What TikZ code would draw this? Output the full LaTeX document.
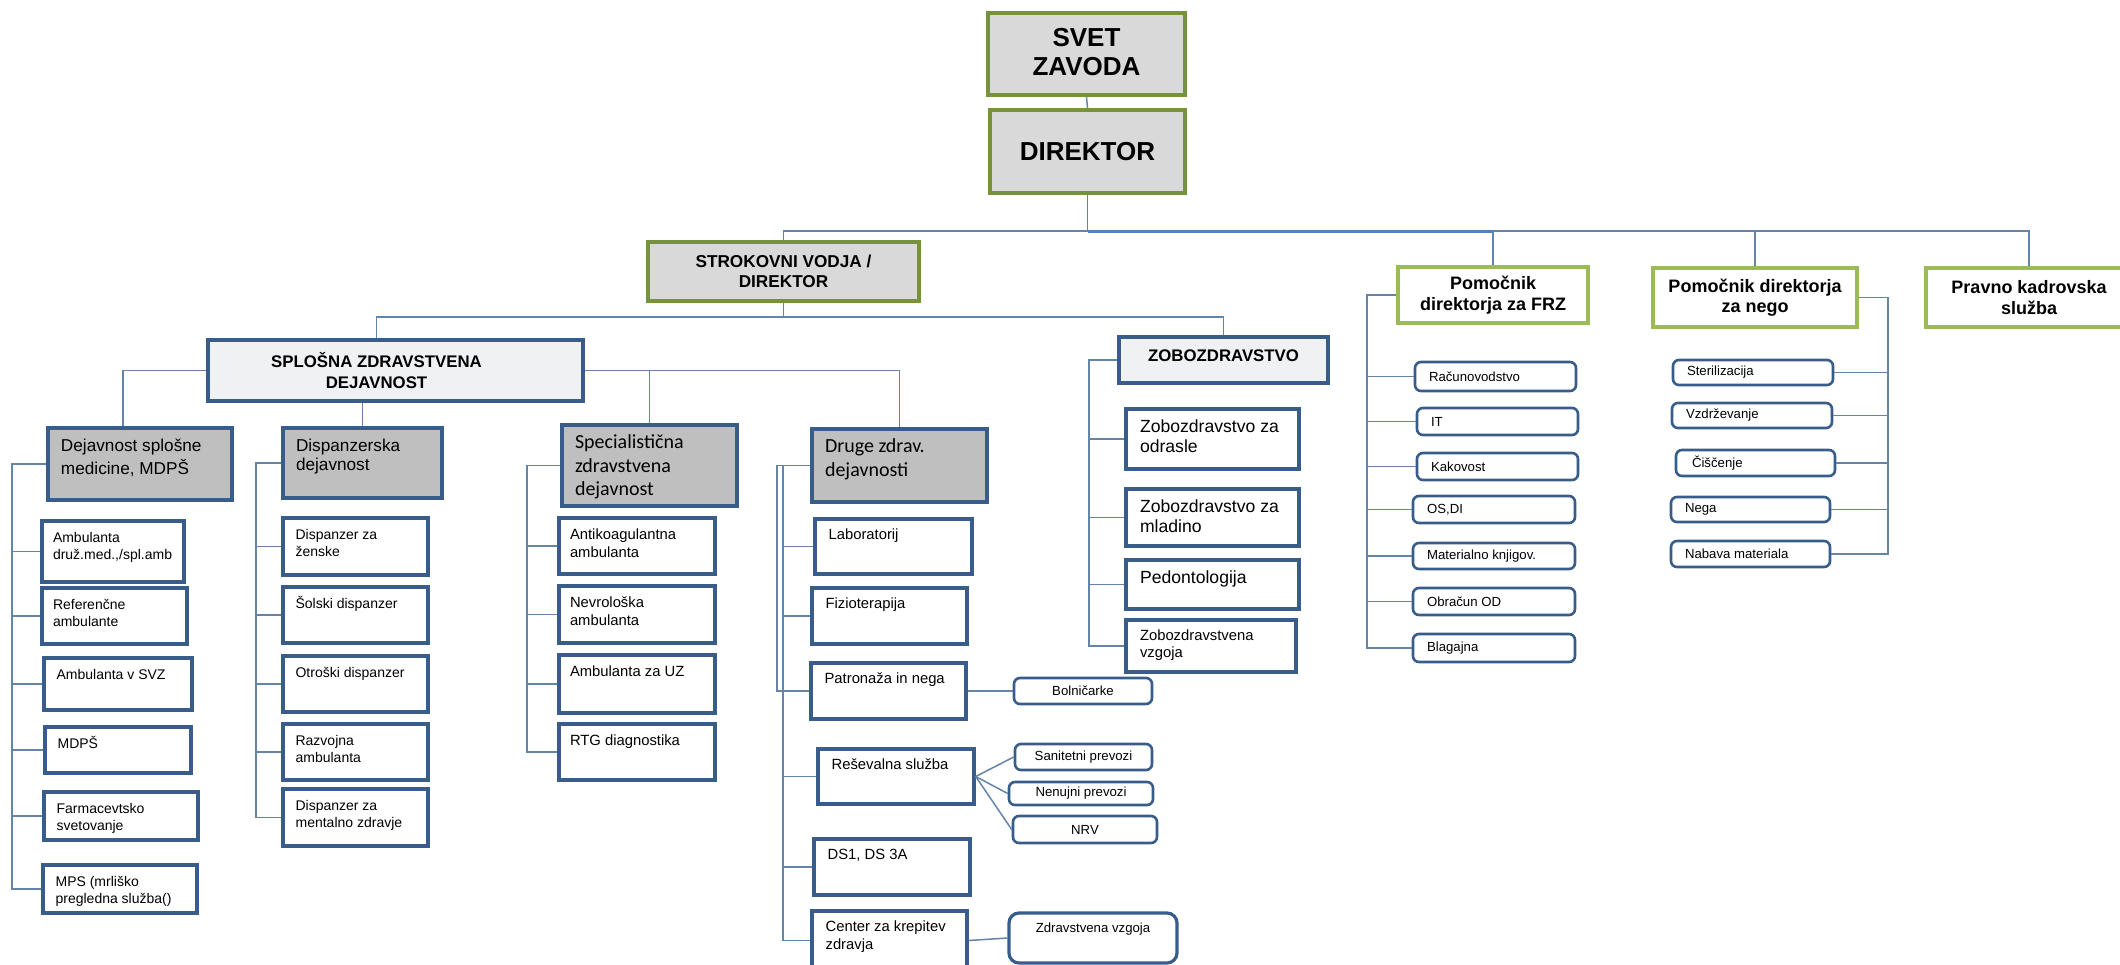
\documentclass[tikz,border=0pt]{standalone}
\usepackage{fontspec}
\setmainfont{Liberation Sans}
\newfontfamily\calfont{Carlito}
\usetikzlibrary{calc}
\definecolor{gdark}{HTML}{76923C}
\definecolor{glight}{HTML}{9BBB59}
\definecolor{bdark}{HTML}{385D8A}
\definecolor{greyA}{HTML}{D9D9D9}
\definecolor{greyB}{HTML}{BFBFBF}
\definecolor{greyL}{HTML}{F0F1F3}
\definecolor{cline}{HTML}{6484AA}
\definecolor{cblue}{HTML}{4F81BD}
\newlength\tpx \newlength\tpy
\setlength\tpx{6pt}\setlength\tpy{4.6pt}
\newcommand\ftSV{\fontsize{13}{14.5}\selectfont\bfseries}
\newcommand\ftST{\fontsize{8.6}{10}\selectfont\bfseries}
\newcommand\ftPO{\fontsize{9}{10.2}\selectfont\bfseries}
\newcommand\ftSP{\fontsize{8.4}{10.8}\selectfont\bfseries}
\newcommand\ftDJ{\fontsize{8.6}{9.7}\selectfont}
\newcommand\ftCA{\calfont\fontsize{10}{11.7}\selectfont}
\newcommand\ftL{\fontsize{7}{8.7}\selectfont}
\newcommand\ftLb{\fontsize{7.4}{8.9}\selectfont}
\newcommand\ftZ{\fontsize{8.8}{10}\selectfont}
\newcommand\ftR{\fontsize{6.6}{8}\selectfont}
% [opts]{style}{name}{x1}{y1}{x2}{y2}{vpos}{text}
\newcommand\obox[9][]{%
  \node[#2, inner sep=0pt, minimum width={(#6-#4)*0.5pt}, minimum height={(#7-#5)*0.5pt}, #1]
    (#3) at ({(#4+#6)/2},{(#5+#7)/2})
    {\parbox[c][\dimexpr 1pt*(#7-#5)/2-2\tpy\relax][#8]{\dimexpr 1pt*(#6-#4)/2-2\tpx\relax}{\raggedright #9}};}
\tikzset{
  topbox/.style={draw=gdark, line width=2.2pt, fill=greyA},
  strobox/.style={draw=gdark, line width=1.6pt, fill=greyA},
  pombox/.style={draw=glight, line width=2pt, fill=white},
  headL/.style={draw=bdark, line width=2.2pt, fill=greyL},
  headG/.style={draw=bdark, line width=2pt, fill=greyB},
  leaf/.style={draw=bdark, line width=1.7pt, fill=white},
  rleaf/.style={draw=bdark, line width=1.3pt, fill=white, rounded corners=3pt},
  conn/.style={draw=cline, line width=0.75pt},
  thickconn/.style={draw=cblue, line width=1.5pt},
}
\begin{document}
\begin{tikzpicture}[x=0.5pt,y=-0.5pt]
\fill[white] (0,0) rectangle (2120,964);
\clip (0,0) rectangle (2120,964);
% ---- top level
\setlength\tpx{4pt}\setlength\tpy{3pt}
\obox[font=\ftSV]{topbox}{svet}{988}{13}{1185}{95}{c}{\centering SVET\\ZAVODA\\[2pt]}
\obox[font=\ftSV]{topbox}{dir}{990}{110}{1185}{193}{c}{\centering DIREKTOR}
\obox[font=\ftST]{strobox}{stro}{648}{242}{919}{301}{c}{\centering STROKOVNI VODJA /\\DIREKTOR}
\obox[font=\ftPO]{pombox}{frz}{1398}{267}{1588}{323}{c}{\centering Pomočnik\\direktorja za FRZ}
\obox[font=\ftPO]{pombox}{nego}{1653}{268}{1857}{327}{c}{\centering Pomočnik direktorja\\za nego}
\obox[font=\ftPO]{pombox}{pravno}{1926}{268}{2132}{327}{c}{\centering Pravno kadrovska\\služba}
\obox[font=\ftSP]{headL}{spl}{208}{340}{583}{401}{c}{\centering SPLOŠNA ZDRAVSTVENA\rule{19pt}{0pt}\\DEJAVNOST\rule{19pt}{0pt}}
\setlength\tpy{4.5pt}
\obox[font=\ftSP]{headL}{zobo}{1119}{337}{1328}{383}{t}{\centering\strut ZOBOZDRAVSTVO}
% ---- second level headings
\setlength\tpx{6.5pt}\setlength\tpy{4.8pt}
\obox[font=\ftDJ]{headG}{dej}{48}{428}{232}{500}{t}{\strut Dejavnost splošne\\medicine, MDPŠ}
\obox[font=\ftDJ]{headG}{disp}{283}{428}{442}{498}{t}{\strut Dispanzerska\\dejavnost}
\setlength\tpy{3.8pt}
\obox[font=\ftCA]{headG}{spec}{562}{425}{737}{506}{t}{\strut Specialistična\\zdravstvena\\dejavnost}
\obox[font=\ftCA]{headG}{druge}{812}{429}{987}{502}{t}{\strut Druge zdrav.\\dejavnosti}
% ---- leaves: Dejavnost splosne medicine
\setlength\tpx{5.5pt}\setlength\tpy{4.6pt}
\obox[font=\ftL]{leaf}{a1}{42}{521}{184}{582}{t}{\strut Ambulanta\\druž.med.,/spl.amb}
\obox[font=\ftL]{leaf}{a2}{42}{588}{187}{644}{t}{\strut Referenčne\\ambulante}
\setlength\tpx{6.3pt}
\obox[font=\ftL]{leaf}{a3}{44}{658}{192}{710}{t}{\strut Ambulanta v SVZ}
\obox[font=\ftL]{leaf}{a4}{45}{727}{191}{773}{t}{\strut MDPŠ}
\obox[font=\ftL]{leaf}{a5}{44}{792}{198}{840}{t}{\strut Farmacevtsko\\svetovanje}
\obox[font=\ftL]{leaf}{a6}{43}{865}{197}{913}{t}{\strut MPS (mrliško\\pregledna služba()}
% ---- Dispanzerska
\obox[font=\ftL]{leaf}{b1}{283}{518}{428}{575}{t}{\strut Dispanzer za\\ženske}
\obox[font=\ftL]{leaf}{b2}{283}{587}{428}{643}{t}{\strut Šolski dispanzer}
\obox[font=\ftL]{leaf}{b3}{283}{656}{428}{712}{t}{\strut Otroški dispanzer}
\obox[font=\ftL]{leaf}{b4}{283}{724}{428}{780}{t}{\strut Razvojna\\ambulanta}
\obox[font=\ftL]{leaf}{b5}{283}{789}{428}{846}{t}{\strut Dispanzer za\\mentalno zdravje}
% ---- Specialisticna
\setlength\tpx{5.5pt}
\obox[font=\ftLb]{leaf}{c1}{559}{518}{715}{574}{t}{\strut Antikoagulantna\\ambulanta}
\obox[font=\ftLb]{leaf}{c2}{559}{586}{715}{643}{t}{\strut Nevrološka\\ambulanta}
\obox[font=\ftLb]{leaf}{c3}{559}{655}{715}{713}{t}{\strut Ambulanta za UZ}
\obox[font=\ftLb]{leaf}{c4}{559}{724}{715}{780}{t}{\strut RTG diagnostika}
% ---- Druge
\setlength\tpx{6.8pt}\setlength\tpy{4.2pt}
\obox[font=\ftLb]{leaf}{d1}{815}{519}{972}{574}{t}{\strut Laboratorij}
\obox[font=\ftLb]{leaf}{d2}{812}{588}{967}{644}{t}{\strut Fizioterapija}
\obox[font=\ftLb]{leaf}{d3}{811}{663}{966}{719}{t}{\strut Patronaža in nega}
\obox[font=\ftLb]{leaf}{d4}{818}{749}{974}{804}{t}{\strut Reševalna služba}
\obox[font=\ftLb]{leaf}{d5}{814}{839}{970}{895}{t}{\strut DS1, DS 3A}
\obox[font=\ftLb]{leaf}{d6}{812}{911}{967}{970}{t}{\strut Center za krepitev\\zdravja}
% ---- Druge sub-items
\setlength\tpx{3pt}\setlength\tpy{0pt}
\obox[font=\ftR]{rleaf}{s1}{1014}{678}{1152}{704}{c}{\centering Bolničarke}
\obox[font=\ftR]{rleaf}{s2}{1015}{744}{1152}{770}{c}{\centering Sanitetni prevozi}
\obox[font=\ftR]{rleaf}{s3}{1009}{782}{1153}{805}{c}{\centering Nenujni prevozi}
\obox[font=\ftR]{rleaf}{s4}{1013}{816}{1157}{843}{c}{\centering NRV}
\setlength\tpy{4pt}
\obox[font=\ftR, rounded corners=5pt, line width=1.6pt]{rleaf}{s5}{1009}{913}{1177}{963}{t}{\centering\strut Zdravstvena vzgoja}
% ---- Zobozdravstvo
\setlength\tpx{7pt}\setlength\tpy{4.8pt}
\obox[font=\ftZ]{leaf}{z1}{1126}{409}{1299}{469}{t}{\strut Zobozdravstvo za\\odrasle}
\obox[font=\ftZ]{leaf}{z2}{1126}{489}{1299}{546}{t}{\strut Zobozdravstvo za\\mladino}
\obox[font=\ftZ]{leaf}{z3}{1126}{560}{1299}{609}{t}{\strut Pedontologija}
\setlength\tpy{3.8pt}
\obox[font=\ftLb]{leaf}{z4}{1126}{620}{1296}{672}{t}{\strut Zobozdravstvena\\vzgoja}
% ---- FRZ
\setlength\tpx{7pt}\setlength\tpy{0pt}
\obox[font=\ftR]{rleaf}{r1}{1415}{362}{1576}{391}{c}{Računovodstvo}
\obox[font=\ftR]{rleaf}{r2}{1417}{408}{1578}{435}{c}{IT}
\obox[font=\ftR]{rleaf}{r3}{1417}{453}{1578}{480}{c}{Kakovost}
\obox[font=\ftR]{rleaf}{r4}{1413}{496}{1575}{523}{c}{OS,DI}
\obox[font=\ftR]{rleaf}{r5}{1413}{543}{1575}{569}{c}{Materialno knjigov.}
\obox[font=\ftR]{rleaf}{r6}{1413}{588}{1575}{615}{c}{Obračun OD}
\obox[font=\ftR]{rleaf}{r7}{1413}{634}{1575}{662}{c}{Blagajna}
% ---- Nega
\obox[font=\ftR]{rleaf}{n1}{1673}{360}{1833}{385}{c}{Sterilizacija}
\obox[font=\ftR]{rleaf}{n2}{1672}{403}{1832}{428}{c}{Vzdrževanje}
\obox[font=\ftR]{rleaf}{n3}{1676}{450}{1835}{476}{c}{\hspace*{1pt}Čiščenje}
\obox[font=\ftR]{rleaf}{n4}{1671}{497}{1830}{522}{c}{Nega}
\obox[font=\ftR]{rleaf}{n5}{1671}{541}{1830}{567}{c}{Nabava materiala}
% ---- helper coordinates
\coordinate (ybusA) at (0,231);
\coordinate (ybusB) at (0,317);
\coordinate (xa) at (12,0);
\coordinate (xb) at (256,0);
\coordinate (xc) at (527,0);
\coordinate (xd1) at (777,0);
\coordinate (xd2) at (783,0);
\coordinate (xz) at (1089,0);
\coordinate (xf) at (1367,0);
\coordinate (xn) at (1888,0);
% ---- connectors top
\draw[conn] (svet.south) -- (dir.north);
\draw[conn] (dir.south) -- (dir.south |- ybusA);
\draw[conn] (dir.south |- ybusA) -| (stro.north);
\draw[conn] (frz.north |- ybusA) -| (pravno.north);
\draw[conn] (frz.north |- ybusA) -- (frz.north);
\draw[conn] (nego.north) -- (nego.north |- ybusA);
\draw[thickconn] (dir.south |- ybusA) -- (frz.north |- ybusA);
\draw[conn] (stro.south) -- (stro.south |- ybusB);
\draw[conn] ([xshift=-9.5pt]spl.north) |- (zobo.north |- ybusB) -- (zobo.north);
\draw[conn] (spl.west) -| ([xshift=-8.5pt]dej.north);
\draw[conn] (spl.south -| disp.north) -- (disp.north);
\draw[conn] (spl.east) -| (druge.north);
\draw[conn] (spl.east -| spec.north) -- (spec.north);
% ---- column buses
\foreach \c in {a1,a2,a3,a4,a5,a6}
  \draw[conn] (dej.west) -- (dej.west -| xa) |- (\c.west);
\foreach \c in {b1,b2,b3,b4,b5}
  \draw[conn] (disp.west) -- (disp.west -| xb) |- (\c.west);
\foreach \c in {c1,c2,c3,c4}
  \draw[conn] (spec.west) -- (spec.west -| xc) |- (\c.west);
\draw[conn] (druge.west) -- (druge.west -| xd1) |- (d3.west);
\foreach \c in {d1,d2,d4,d5,d6}
  \draw[conn] (druge.west) -- (druge.west -| xd2) |- (\c.west);
\foreach \c in {z1,z2,z3,z4}
  \draw[conn] (zobo.west) -- (zobo.west -| xz) |- (\c.west);
\foreach \c in {r1,r2,r3,r4,r5,r6,r7}
  \draw[conn] (frz.west) -- (frz.west -| xf) |- (\c.west);
\foreach \c in {n1,n2,n3,n4,n5}
  \draw[conn] (nego.east) -- (nego.east -| xn) |- (\c.east);
% ---- side branches
\draw[conn] (d3.east) -- (s1.west);
\draw[conn] (d4.east) -- (s2.west);
\draw[conn] (d4.east) -- (s3.west);
\draw[conn] (d4.east) -- (s4.west);
\draw[conn] (d6.east) -- (s5.west);
\end{tikzpicture}
\end{document}
